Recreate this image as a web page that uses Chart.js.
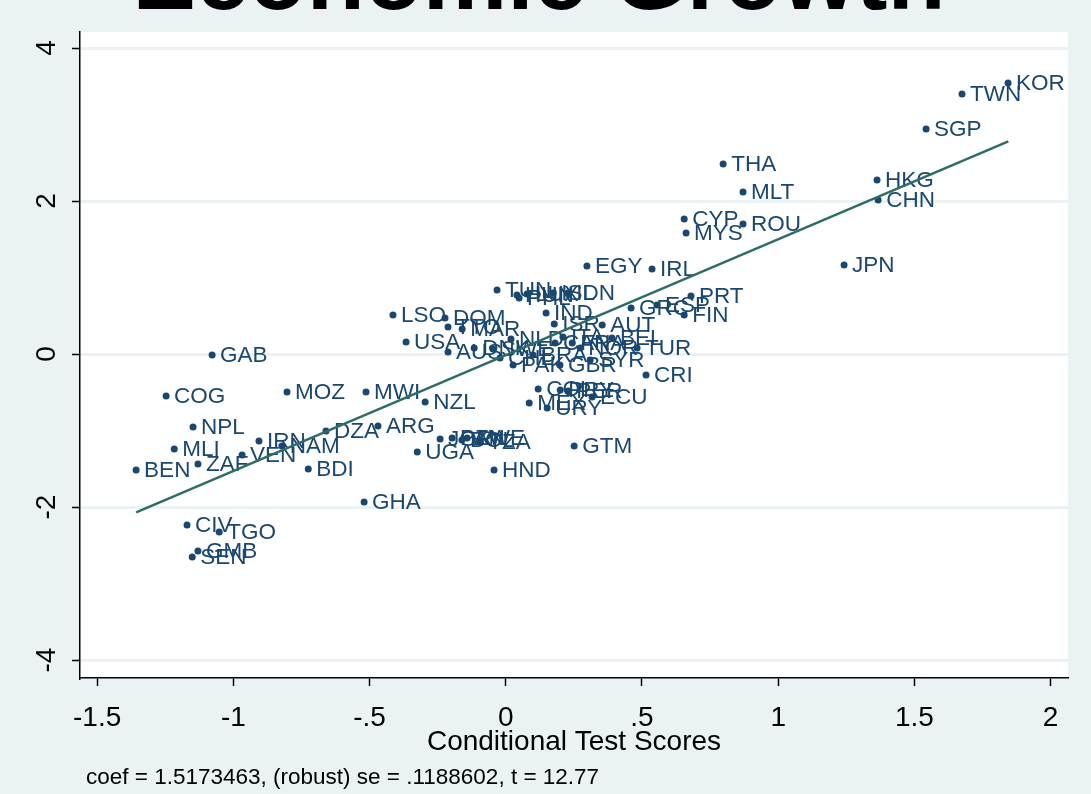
<!DOCTYPE html>
<html>
<head>
<meta charset="utf-8">
<script src="https://cdn.jsdelivr.net/npm/chart.js@4.4.1/dist/chart.umd.min.js"></script>
<style>
  html, body { margin: 0; padding: 0; background: #eaf2f3; }
  canvas { display: block; }
</style>
</head>
<body>
<canvas id="avplot" width="1091" height="794"></canvas>
<script>
// country codes and their partial-regression coordinates
const countries = ['KOR','TWN','SGP','HKG','CHN','JPN','THA','MLT','ROU','CYP','MYS','EGY','IRL','PRT','GRC','ESP','FIN',
  'TUN','HUN','PHL','LUX','ISL','IDN','IND','LSO','DOM','TTO','MAR','USA','AUS','DNK','SWE','CHL','NLD','BRA','PAK','GBR',
  'ISR','ITA','AUT','BEL','CAN','FRA','NOR','SYR','COL','PRY','PER','MEX','URY','ECU','CRI','TUR','GTM','HND',
  'JOR','PAN','BOL','ZWE','TZA','UGA','ARG','DZA','BDI','GHA','NZL','MWI','MOZ','COG','GAB','NPL','MLI','IRN','NAM',
  'VEN','ZAF','BEN','CIV','TGO','GMB','SEN'];
const testScores = [1.844,1.675,1.543,1.363,1.367,1.242,0.798,0.871,0.871,0.655,0.662,0.298,0.537,0.680,0.460,0.555,0.655,
  -0.032,0.041,0.049,0.078,0.174,0.229,0.148,-0.414,-0.223,-0.212,-0.160,-0.366,-0.212,-0.116,-0.047,-0.021,0.019,0.100,0.027,0.199,
  0.178,0.210,0.354,0.390,0.181,0.244,0.273,0.310,0.119,0.200,0.229,0.086,0.152,0.317,0.515,0.482,0.251,-0.043,
  -0.241,-0.197,-0.161,-0.142,-0.094,-0.325,-0.469,-0.660,-0.725,-0.520,-0.296,-0.513,-0.803,-1.247,-1.078,-1.148,-1.217,-0.906,-0.822,
  -0.968,-1.130,-1.357,-1.170,-1.052,-1.130,-1.151];
const growth = [3.542,3.399,2.941,2.275,2.013,1.163,2.484,2.118,1.699,1.765,1.582,1.150,1.111,0.758,0.601,0.641,0.510,
  0.837,0.771,0.732,0.784,0.797,0.797,0.536,0.510,0.471,0.353,0.327,0.157,0.026,0.078,0.065,-0.052,0.196,-0.013,-0.144,-0.144,
  0.392,0.222,0.379,0.209,0.144,0.144,0.078,-0.078,-0.458,-0.471,-0.484,-0.641,-0.706,-0.562,-0.275,0.078,-1.203,-1.516,
  -1.111,-1.098,-1.124,-1.098,-1.150,-1.281,-0.941,-1.007,-1.503,-1.935,-0.627,-0.497,-0.497,-0.549,-0.013,-0.954,-1.242,-1.137,-1.203,
  -1.320,-1.438,-1.516,-2.235,-2.327,-2.575,-2.654];

// fitted line end points
const fitX = [-1.357, 1.845];
const fitY = [-2.07, 2.78];

const xTicks = [-1.5, -1, -0.5, 0, 0.5, 1, 1.5, 2];
const xTickLabels = ['-1.5', '-1', '-.5', '0', '.5', '1', '1.5', '2'];
const yTicks = [-4, -2, 0, 2, 4];
const yTickLabels = ['-4', '-2', '0', '2', '4'];

const titleText = 'Economic Growth';
const xTitle = 'Conditional Test Scores';
const noteText = 'coef = 1.5173463, (robust) se = .1188602, t = 12.77';

const NAVY = '#1a476f';
const FONT = '"Liberation Sans", Arial, sans-serif';

// backgrounds, y labels, title and note
const framePlugin = {
  id: 'frame',
  beforeDraw(chart) {
    const ctx = chart.ctx, a = chart.chartArea;
    ctx.save();
    ctx.fillStyle = '#eaf2f3';
    ctx.fillRect(0, 0, chart.width, chart.height);
    ctx.fillStyle = '#ffffff';
    ctx.fillRect(a.left, a.top, a.right - a.left, a.bottom - a.top);
    ctx.restore();
  },
  afterDraw(chart) {
    const ctx = chart.ctx, y = chart.scales.y;
    ctx.save();
    ctx.fillStyle = '#000';
    ctx.font = '28px ' + FONT;
    ctx.textAlign = 'center';
    ctx.textBaseline = 'middle';
    yTicks.forEach((v, i) => {
      ctx.save();
      ctx.translate(47, y.getPixelForValue(v));
      ctx.rotate(-Math.PI / 2);
      ctx.fillText(yTickLabels[i], 0, 0);
      ctx.restore();
    });
    ctx.font = 'bold 95px ' + FONT;
    ctx.textBaseline = 'alphabetic';
    ctx.fillText(titleText, 539, 9);
    ctx.font = '22.5px ' + FONT;
    ctx.textAlign = 'left';
    ctx.textBaseline = 'middle';
    ctx.fillText(noteText, 86, 778);
    ctx.restore();
  }
};

// country code next to each marker
const labelPlugin = {
  id: 'pointLabels',
  afterDatasetDraw(chart, args) {
    if (args.index !== 1) return;
    const ctx = chart.ctx;
    ctx.save();
    ctx.fillStyle = NAVY;
    ctx.font = '22.5px ' + FONT;
    ctx.textAlign = 'left';
    ctx.textBaseline = 'middle';
    args.meta.data.forEach((pt, i) => {
      ctx.fillText(countries[i], pt.x + 8, pt.y + 1);
    });
    ctx.restore();
  }
};

new Chart(document.getElementById('avplot').getContext('2d'), {
  type: 'scatter',
  data: {
    datasets: [
      {
        type: 'line',
        data: fitX.map((x, i) => ({ x: x, y: fitY[i] })),
        borderColor: '#2d6d66',
        borderWidth: 2.5,
        pointRadius: 0,
        fill: false
      },
      {
        data: testScores.map((x, i) => ({ x: x, y: growth[i] })),
        backgroundColor: NAVY,
        borderColor: NAVY,
        borderWidth: 0,
        pointRadius: 3.5
      }
    ]
  },
  options: {
    responsive: false,
    animation: false,
    devicePixelRatio: 1,
    layout: { padding: { top: 32, right: 23, left: 0, bottom: 0 } },
    plugins: { legend: { display: false }, tooltip: { enabled: false } },
    scales: {
      x: {
        type: 'linear',
        min: -1.563,
        max: 2.064,
        afterBuildTicks: s => { s.ticks = xTicks.map(v => ({ value: v })); },
        afterFit: s => { s.height = 116; },
        grid: { drawOnChartArea: false, drawTicks: true, tickLength: 8, tickColor: '#000', tickWidth: 1.5 },
        border: { display: true, color: '#000', width: 1.5 },
        ticks: {
          color: '#000',
          font: { family: FONT, size: 28 },
          padding: 15,
          maxRotation: 0,
          autoSkip: false,
          callback: (v) => xTickLabels[xTicks.indexOf(v)]
        },
        title: {
          display: true,
          text: xTitle,
          color: '#000',
          font: { family: FONT, size: 28 },
          padding: { top: 0, bottom: 35 }
        }
      },
      y: {
        type: 'linear',
        min: -4.235,
        max: 4.21,
        afterBuildTicks: s => { s.ticks = yTicks.map(v => ({ value: v })); },
        afterFit: s => { s.width = 80; },
        grid: { color: '#eaf2f3', lineWidth: 3, drawTicks: true, tickLength: 8, tickColor: '#000', tickWidth: 1.5 },
        border: { display: true, color: '#000', width: 1.5 },
        ticks: { display: false }
      }
    }
  },
  plugins: [framePlugin, labelPlugin]
});
</script>
</body>
</html>
